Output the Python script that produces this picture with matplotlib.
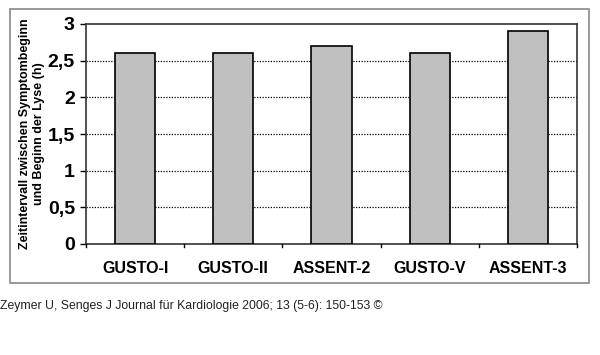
import matplotlib
matplotlib.use("Agg")
import matplotlib.pyplot as plt
from matplotlib.patches import Rectangle
import numpy as np

categories = ["GUSTO-I", "GUSTO-II", "ASSENT-2", "GUSTO-V", "ASSENT-3"]
values = [2.6, 2.6, 2.7, 2.6, 2.9]
yticks = [0, 0.5, 1, 1.5, 2, 2.5, 3]
yticklabels = ["0", "0,5", "1", "1,5", "2", "2,5", "3"]

W, H = 600, 355
fig = plt.figure(figsize=(W/100, H/100), dpi=100)
fig.patch.set_facecolor("white")

# outer frame
frame = Rectangle((10/W, 1 - 283/H), (589-10)/W, (283-9)/H, transform=fig.transFigure,
                  facecolor="white", edgecolor="#888888", linewidth=1.2, zorder=-5)
fig.patches.append(frame)

ax = fig.add_axes([86/W, 1 - 244/H, (577-86)/W, (244-24)/H])
ax.set_zorder(2)
x = np.arange(len(categories))
ax.bar(x, values, width=0.41, color="#c0c0c0", edgecolor="black", linewidth=1.2, zorder=3)
ax.set_xlim(-0.5, len(categories) - 0.5)
ax.set_ylim(0, 3)
ax.set_yticks(yticks)
ax.set_yticklabels(yticklabels, fontsize=14, fontweight="bold", family="Liberation Sans")
ax.set_xticks(x)
ax.set_xticklabels(categories, fontsize=11.5, fontweight="bold", family="Liberation Sans")
ax.tick_params(axis="x", length=0, pad=12)
ax.tick_params(axis="y", length=4, width=1, direction="out", pad=4)
for b in np.arange(-0.5, len(categories) + 0.5, 1.0):
    ax.plot([b, b], [0, -0.04], color="black", lw=1, clip_on=False, zorder=4)
for yv in yticks[1:-1]:
    ax.axhline(yv, color="black", linestyle=(0, (1, 1.2)), linewidth=0.9, zorder=1)
for s in ax.spines.values():
    s.set_color("#333333")
    s.set_linewidth(1.2)
ax.set_ylabel("Zeitintervall zwischen Symptombeginn\nund Beginn der Lyse (h)",
              fontsize=9, fontweight="bold", family="Liberation Sans", labelpad=2,
              linespacing=1.25)

fig.text(0, 1 - 306/H, "Zeymer U, Senges J Journal für Kardiologie 2006; 13 (5-6): 150-153 ©",
         fontsize=8.8, family="Liberation Sans", va="center", ha="left", color="#222222")

fig.savefig("out.png", dpi=100)
